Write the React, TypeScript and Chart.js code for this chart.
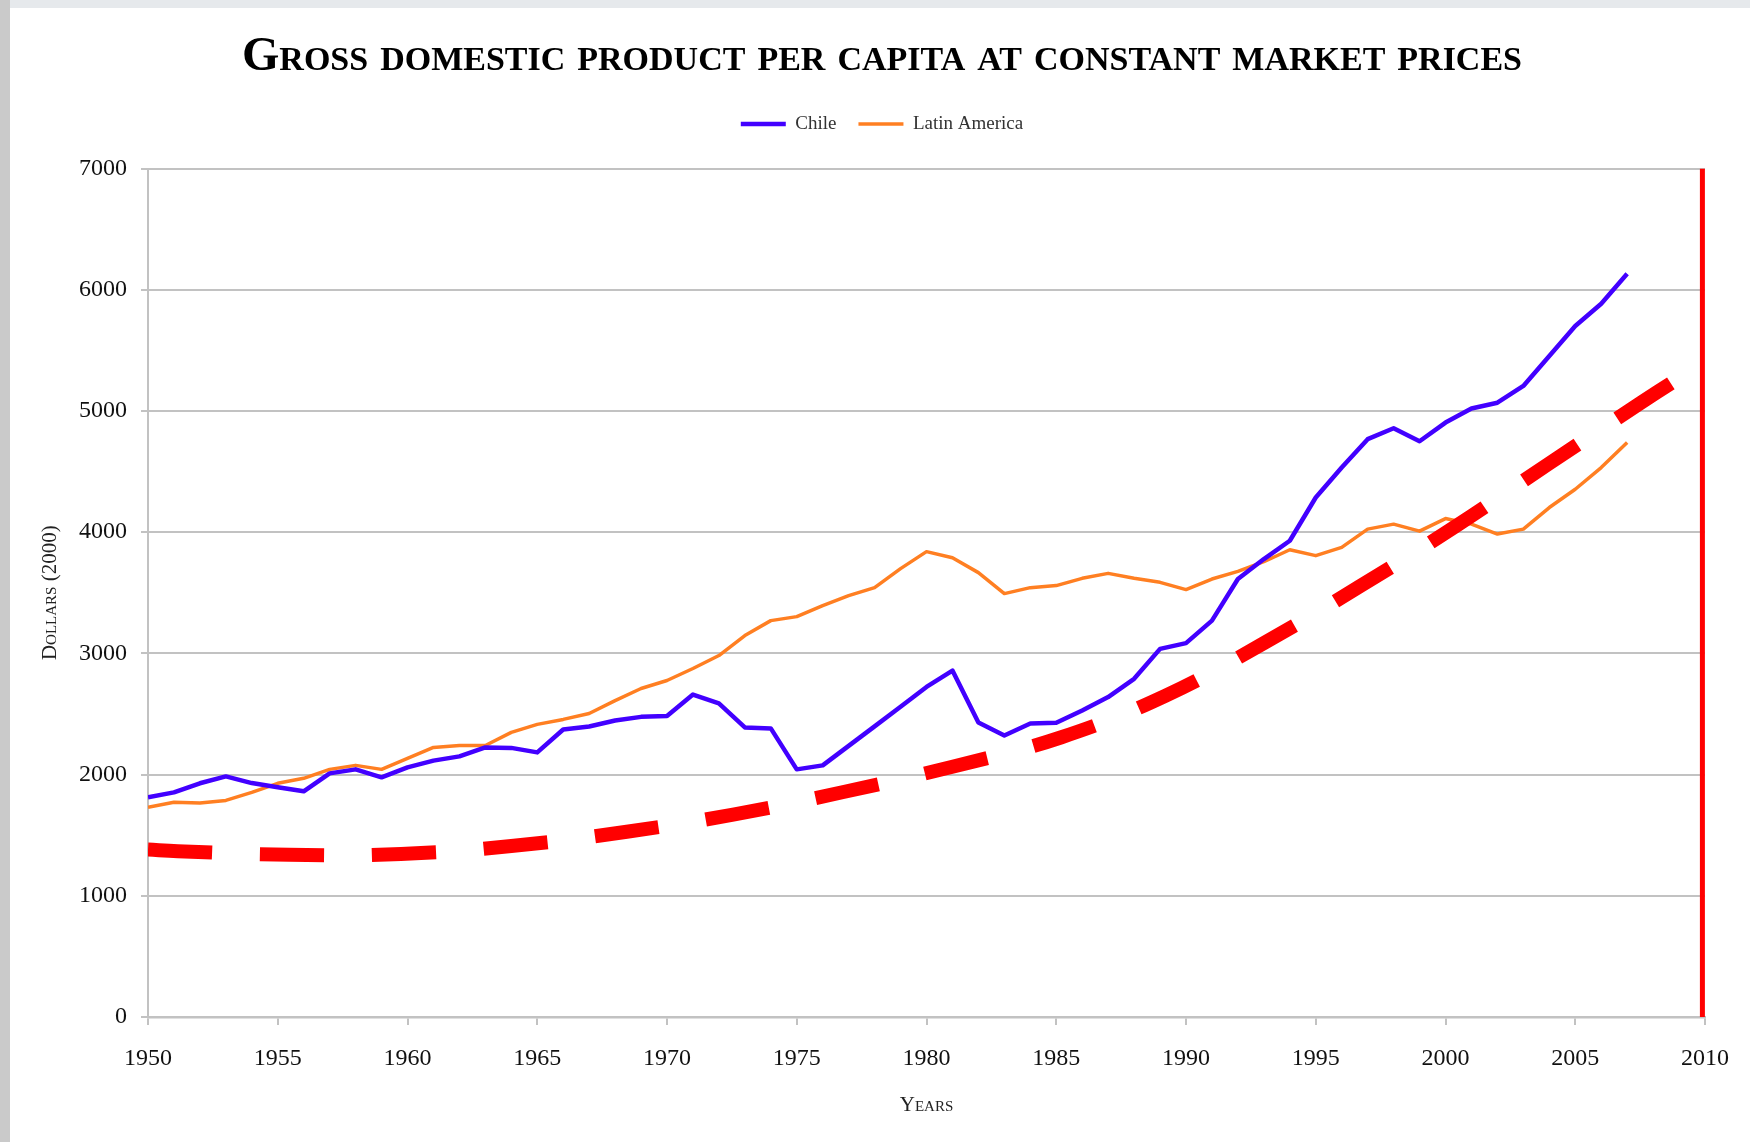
import React, { useEffect, useRef } from 'react';
import { Chart, registerables } from 'chart.js';

Chart.register(...registerables);

const years = [
  1950, 1951, 1952, 1953, 1954, 1955, 1956, 1957, 1958, 1959,
  1960, 1961, 1962, 1963, 1964, 1965, 1966, 1967, 1968, 1969,
  1970, 1971, 1972, 1973, 1974, 1975, 1976, 1977, 1978, 1979,
  1980, 1981, 1982, 1983, 1984, 1985, 1986, 1987, 1988, 1989,
  1990, 1991, 1992, 1993, 1994, 1995, 1996, 1997, 1998, 1999,
  2000, 2001, 2002, 2003, 2004, 2005, 2006, 2007,
];

const chileValues = [
  1812, 1853, 1928, 1985, 1930, 1895, 1862, 2010, 2043, 1977,
  2059, 2115, 2150, 2224, 2220, 2183, 2372, 2397, 2446, 2476,
  2483, 2660, 2587, 2389, 2381, 2043, 2076, 2237, 2398, 2560,
  2723, 2858, 2430, 2323, 2422, 2428, 2529, 2639, 2790, 3037,
  3084, 3270, 3613, 3778, 3929, 4286, 4533, 4767, 4857, 4750,
  4904, 5020, 5068, 5206, 5453, 5700, 5884, 6131,
];

const latinAmericaValues = [
  1730, 1771, 1765, 1787, 1853, 1928, 1969, 2043, 2076, 2043,
  2133, 2224, 2240, 2240, 2348, 2414, 2455, 2504, 2610, 2710,
  2776, 2875, 2982, 3147, 3270, 3303, 3394, 3476, 3542, 3699,
  3839, 3789, 3666, 3493, 3542, 3559, 3619, 3660, 3619, 3586,
  3526, 3613, 3676, 3756, 3855, 3806, 3874, 4025, 4066, 4008,
  4112, 4066, 3984, 4025, 4203, 4354, 4533, 4739,
];

// Hand-drawn red dashed trend curve
const trendYears = [
  1950, 1951.15, 1955.45, 1959.75, 1964, 1968.45, 1972.55, 1976.8,
  1981, 1985.2, 1989.2, 1993, 1996.7, 2000.4, 2003.95, 2007.55, 2008.7,
];
const trendValues = [
  1381, 1368, 1338, 1345, 1410, 1528, 1670, 1856,
  2065, 2308, 2650, 3084, 3553, 4050, 4560, 5070, 5230,
];

// Red vertical marker line near the right edge
const markerYears = [2009.9, 2009.9];
const markerValues = [0, 7000];

const titleText = 'Gross domestic product per capita at constant market prices';
const yTitleText = 'Dollars (2000)';
const xTitleText = 'Years';
const seriesLabels = ['Chile', 'Latin America'];

const SERIF = "'Liberation Serif', 'Times New Roman', serif";
const GRID = '#C2C2C2';

const legendSpacing = {
  id: 'legendSpacing',
  beforeLayout(chart: any) {
    const legend = chart.legend;
    if (legend && !legend._spacingPatched) {
      const orig = legend.fit;
      legend.fit = function () {
        orig.call(this);
        this.height += 25;
      };
      legend._spacingPatched = true;
    }
  },
};

export default function App() {
  const ref = useRef<HTMLCanvasElement | null>(null);

  useEffect(() => {
    if (!ref.current) return;
    Chart.defaults.font.family = SERIF;
    const chart = new Chart(ref.current, {
      type: 'line',
      data: {
        datasets: [
          {
            label: seriesLabels[0],
            data: years.map((x, i) => ({ x, y: chileValues[i] })),
            borderColor: '#4200FF',
            backgroundColor: '#4200FF',
            borderWidth: 4.5,
            pointRadius: 0,
            tension: 0,
            borderJoinStyle: 'round',
            order: 0,
          },
          {
            label: seriesLabels[1],
            data: years.map((x, i) => ({ x, y: latinAmericaValues[i] })),
            borderColor: '#FF7F22',
            backgroundColor: '#FF7F22',
            borderWidth: 3.5,
            pointRadius: 0,
            tension: 0,
            borderJoinStyle: 'round',
            order: 0,
          },
          {
            label: 'trend',
            data: trendYears.map((x, i) => ({ x, y: trendValues[i] })),
            borderColor: '#FF0000',
            borderWidth: 14,
            borderDash: [64, 48],
            borderCapStyle: 'butt',
            pointRadius: 0,
            tension: 0.4,
            order: -1,
          },
          {
            label: 'marker',
            data: markerYears.map((x, i) => ({ x, y: markerValues[i] })),
            borderColor: '#FF0000',
            borderWidth: 5,
            pointRadius: 0,
            tension: 0,
            order: -2,
          },
        ] as any,
      },
      options: {
        animation: false,
        responsive: false,
        maintainAspectRatio: false,
        layout: { padding: { left: 14, right: 0, top: 0, bottom: 0 } },
        plugins: {
          title: {
            display: true,
            text: titleText,
            color: '#000',
            font: { family: SERIF, size: 48, weight: 'small-caps bold' as any, lineHeight: 1.2 },
            padding: { top: 29.2, bottom: 5.7 },
          },
          legend: {
            display: true,
            position: 'top',
            labels: {
              usePointStyle: true,
              pointStyle: 'line',
              pointStyleWidth: 45,
              padding: 22,
              color: '#333',
              font: { family: SERIF, size: 19 },
              filter: (item: any) => item.datasetIndex < 2,
            },
          },
          tooltip: { enabled: false },
        },
        scales: {
          x: {
            type: 'linear',
            min: 1950,
            max: 2010,
            afterFit: (s: any) => { s.height = 125; },
            ticks: {
              stepSize: 5,
              autoSkip: false,
              maxRotation: 0,
              padding: 19,
              color: '#111',
              font: { family: SERIF, size: 24 },
              callback: (v: any) => String(v),
            },
            grid: {
              display: true,
              drawOnChartArea: false,
              drawTicks: true,
              tickLength: 8,
              color: GRID,
              lineWidth: 2,
            },
            border: { display: true, color: GRID, width: 2.5 },
            title: {
              display: true,
              text: xTitleText,
              color: '#222',
              font: { family: SERIF, size: 21, weight: 'small-caps normal' as any },
              padding: { top: 0, bottom: 24 },
            },
          },
          y: {
            type: 'linear',
            position: 'left',
            min: 0,
            max: 7000,
            afterFit: (s: any) => { s.width = 134; },
            ticks: {
              stepSize: 1000,
              padding: 14,
              color: '#111',
              font: { family: SERIF, size: 24 },
              callback: (v: any) => String(v),
            },
            grid: {
              color: GRID,
              lineWidth: 2,
              tickLength: 7,
              drawTicks: true,
            },
            border: { display: true, color: GRID, width: 2 },
            title: {
              display: true,
              text: yTitleText,
              color: '#222',
              font: { family: SERIF, size: 21, weight: 'small-caps normal' as any },
              padding: { top: 23.4, bottom: 0 },
            },
          },
          yRight: {
            type: 'linear',
            position: 'right',
            display: true,
            afterFit: (s: any) => { s.width = 45; },
            ticks: { display: false },
            grid: { display: false, drawTicks: false },
            border: { display: false },
          },
        },
      } as any,
      plugins: [legendSpacing],
    });
    return () => chart.destroy();
  }, []);

  return (
    <div style={{ position: 'absolute', left: 0, top: 0, width: 1750, height: 1142, background: '#fff' }}>
      <div style={{ position: 'absolute', left: 0, top: 0, width: 1750, height: 8, background: '#E6E9EC' }} />
      <div style={{ position: 'absolute', left: 0, top: 0, width: 10, height: 1142, background: '#CACACA' }} />
      <canvas ref={ref} width={1750} height={1142} style={{ position: 'absolute', left: 0, top: 0, display: 'block', width: 1750, height: 1142 }} />
    </div>
  );
}
